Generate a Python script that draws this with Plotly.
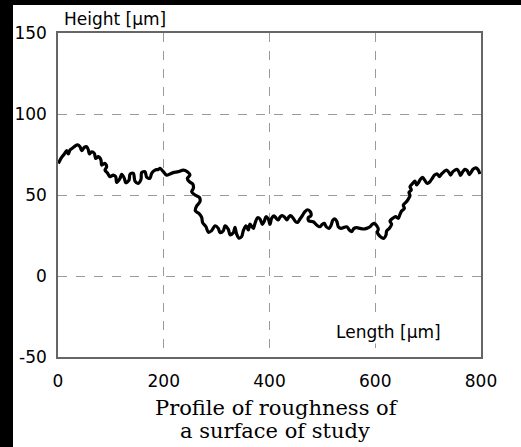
import plotly.graph_objects as go

# Profile, in segments (length in µm, height in µm)
seg1_x = [0.6, 6.9, 12.0, 16.4, 19.5, 22.7, 27.1, 32.2, 37.2, 41.6, 44.8, 49.8, 54.2, 57.4, 59.3,
          63.7, 68.7, 71.2, 76.3, 81.3, 82.6, 88.9, 92.0, 88.9, 93.9, 98.3, 104.6, 109.1, 111.0,
          117.3, 120.4, 125.5, 128.0, 134.3, 136.2, 142.5, 145.6, 151.9, 157.0, 158.2, 164.5,
          167.7, 174.0, 177.1, 183.5, 189.7]
seg1_y = [69.5, 73.2, 75.3, 77.4, 75.3, 77.8, 78.8, 80.2, 80.9, 79.8, 77.4, 79.4, 79.8, 77.8, 75.3,
          76.7, 75.7, 72.6, 73.7, 71.6, 68.5, 69.5, 67.5, 65.4, 63.4, 61.3, 62.3, 61.3, 57.8,
          60.3, 62.8, 60.3, 57.6, 59.2, 62.8, 63.4, 58.6, 57.2, 59.7, 63.8, 64.4,
          61.0, 60.3, 63.4, 65.4, 65.8]

seg2_x = [192.9, 199.2, 205.5, 211.8, 218.1, 227.6, 237.0, 244.6, 249.6, 244.6, 248.4, 254.7, 256.0,
          252.8, 259.1, 267.3, 268.5, 262.2, 259.7, 267.3, 271.7, 273.6, 279.9, 284.3, 290.6, 296.9,
          303.2, 306.4, 312.7, 315.8, 322.1, 325.3, 331.6, 334.7, 337.9, 342.3, 347.3, 350.5, 355.5,
          360.0, 363.1, 369.4, 372.6]
seg2_y = [66.5, 64.4, 62.3, 63.0, 63.8, 64.4, 65.4, 64.4, 62.3, 60.3, 58.2, 56.8, 54.1,
          52.0, 50.0, 48.6, 45.9, 43.2, 40.3, 38.3, 36.2, 32.9, 30.4, 27.0, 28.0, 31.0,
          29.4, 26.8, 28.0, 31.0, 28.8, 25.5, 26.7, 30.0, 25.9, 23.4, 24.3, 28.0, 31.0,
          28.4, 32.0, 29.4, 32.5]

seg3_x = [377.5, 382.0, 386.4, 390.2, 393.3, 397.7, 400.9, 404.0, 408.4, 412.8, 416.6, 420.4, 424.8,
          429.2, 433.0, 436.8, 440.6, 445.0, 449.4, 453.2, 457.6, 462.0, 467.1, 472.1, 477.1, 478.4,
          473.4, 474.6, 482.8, 489.1, 495.4, 499.8, 503.6, 507.4, 512.5, 516.2, 520.0, 523.8, 527.6,
          530.1, 535.1]
seg3_y = [36.0, 35.2, 31.9, 33.9, 36.6, 35.2, 31.9, 35.6, 37.2, 35.6, 34.6, 36.6, 37.2,
          36.0, 34.6, 36.6, 37.2, 35.6, 33.5, 33.1, 35.2, 37.2, 39.7, 40.9, 39.7, 37.2,
          36.0, 33.9, 33.5, 31.5, 30.4, 31.9, 32.5, 30.4, 29.4, 31.1, 34.6, 35.2, 33.5,
          30.4, 29.4]

seg4_x = [545.9, 551.0, 555.4, 559.8, 564.8, 571.1, 577.4, 583.7, 590.0, 594.4, 598.2, 602.6, 605.8,
          603.9, 607.7, 612.1, 616.5, 620.3, 621.6, 626.6, 631.0, 627.9, 632.9, 638.6, 643.6, 646.8,
          649.9, 655.0, 653.1, 658.1, 662.5, 665.7, 663.8, 668.2, 665.7, 670.7, 675.1, 678.3, 682.1]
seg4_y = [30.4, 28.4, 27.4, 29.4, 29.8, 29.4, 29.0, 29.4, 30.4, 31.9, 32.5, 31.1, 29.0,
          27.0, 24.9, 23.7, 23.3, 25.3, 27.8, 29.4, 31.9, 34.0, 35.6, 36.6, 35.6, 38.1,
          40.1, 41.8, 43.8, 45.5, 47.5, 49.6, 51.6, 53.1, 55.1, 57.2, 58.6, 56.2, 57.8]

seg5_x = [684.5, 689.5, 694.0, 698.4, 703.4, 707.8, 712.2, 717.3, 721.1, 725.5, 729.9, 734.9, 739.3,
          742.5, 746.3, 750.7, 755.1, 758.9, 761.4, 765.2, 769.6, 774.0, 777.8, 781.6, 785.4, 790.4,
          794.8, 798.0]
seg5_y = [59.3, 60.9, 58.9, 57.2, 58.2, 60.3, 62.3, 63.0, 61.3, 63.0, 64.4, 65.4, 64.0,
          62.3, 64.2, 65.4, 65.8, 63.8, 62.1, 64.2, 65.8, 65.0, 62.6, 64.2, 66.0, 66.7,
          65.4, 62.9]

length_um = seg1_x + seg2_x + seg3_x + seg4_x + seg5_x
height_um = seg1_y + seg2_y + seg3_y + seg4_y + seg5_y

x_ticks = [0, 200, 400, 600, 800]
y_ticks = [-50, 0, 50, 100, 150]

SANS = "DejaVu Sans"
SERIF = "DejaVu Serif"

fig = go.Figure()
fig.add_trace(go.Scatter(
    x=length_um, y=height_um, mode="lines",
    line=dict(color="black", width=3.2, shape="spline", smoothing=0.9),
    showlegend=False, hoverinfo="skip",
))

axis_common = dict(
    showline=True, mirror=True, linecolor="#666666", linewidth=1.5,
    showgrid=True, gridcolor="#9a9a9a", gridwidth=1, griddash="dash",
    zeroline=False, ticks="", tickfont=dict(family=SANS, size=17, color="black"),
)
fig.update_xaxes(range=[0, 800], tickvals=x_ticks, ticktext=[str(v) for v in x_ticks],
                 ticklabelstandoff=8, **axis_common)
fig.update_yaxes(range=[-50, 150], tickvals=y_ticks, ticktext=[str(v) for v in y_ticks],
                 ticklabelstandoff=6, **axis_common)

fig.update_layout(
    width=521, height=447,
    margin=dict(l=58, r=40, t=33, b=90, pad=0),
    paper_bgcolor="black", plot_bgcolor="white",
    shapes=[dict(type="rect", xref="paper", yref="paper",
                 x0=-0.1064, x1=1.2, y0=-0.4, y1=1.0864,
                 fillcolor="white", line=dict(width=0), layer="below")],
    annotations=[
        dict(text="Height [μm]", xref="paper", yref="paper", x=0.0095, y=1.043,
             xanchor="left", yanchor="middle", showarrow=False,
             font=dict(family=SANS, size=17, color="black")),
        dict(text="Length [μm]", xref="paper", yref="paper", x=0.910, y=0.077,
             xanchor="right", yanchor="middle", showarrow=False, bgcolor="white",
             font=dict(family=SANS, size=17, color="black")),
        dict(text="Profile of roughness of", xref="paper", yref="paper", x=0.518, y=-0.157,
             xanchor="center", yanchor="middle", showarrow=False,
             font=dict(family=SERIF, size=21, color="black")),
        dict(text="a surface of study", xref="paper", yref="paper", x=0.513, y=-0.227,
             xanchor="center", yanchor="middle", showarrow=False,
             font=dict(family=SERIF, size=21, color="black")),
    ],
)

fig.write_html("out.html")
